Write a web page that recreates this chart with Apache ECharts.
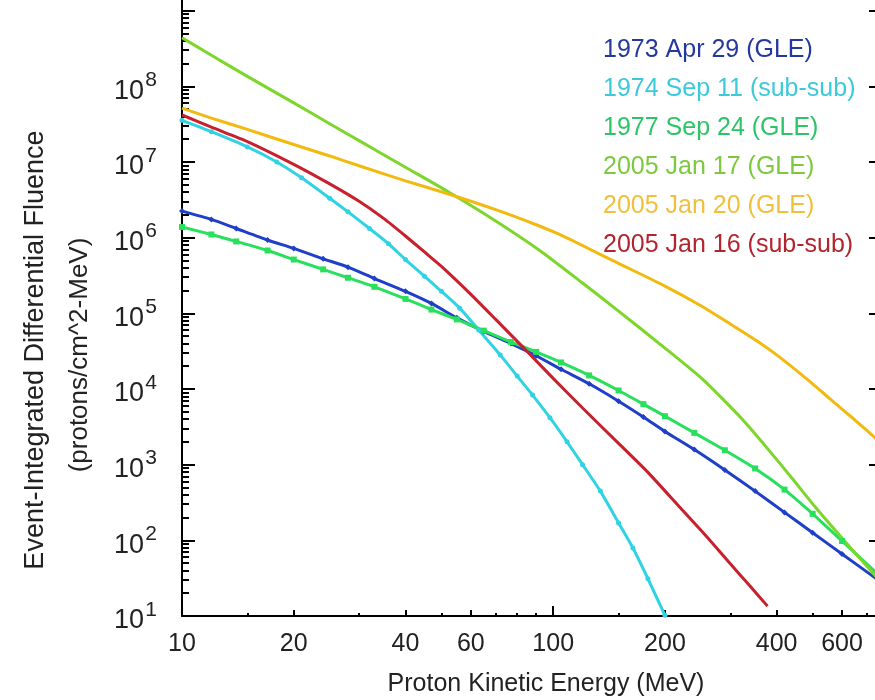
<!DOCTYPE html>
<html>
<head>
<meta charset="utf-8">
<script src="https://cdn.jsdelivr.net/npm/echarts@6.0.0/dist/echarts.min.js"></script>
<style>
  html, body { margin: 0; padding: 0; background: #fff; }
  #chart { width: 875px; height: 700px; }
</style>
</head>
<body>
<div id="chart"></div>
<script>
// proton energies (MeV) and event-integrated fluences
var energyA = [10, 12, 14, 17, 20, 24, 28, 33, 40, 47, 55, 65, 77, 90, 105, 125, 150, 175, 200, 240, 290, 350, 420, 500, 600, 750];
var fluence1973 = [2.24e6, 1.74e6, 1.32e6, 9.3e5, 7.2e5, 5.25e5, 4.07e5, 2.88e5, 1.95e5, 1.35e5, 8.7e4, 5.75e4, 3.98e4, 2.75e4, 1.82e4, 1.17e4, 6.9e3, 4.27e3, 2.75e3, 1.58e3, 850, 447, 234, 126, 66, 30];
var fluence1977 = [1.38e6, 1.10e6, 8.9e5, 6.76e5, 5.13e5, 3.8e5, 2.95e5, 2.24e5, 1.55e5, 1.12e5, 8.3e4, 5.9e4, 4.17e4, 3.09e4, 2.24e4, 1.51e4, 9.55e3, 6.3e3, 4.37e3, 2.63e3, 1.55e3, 890, 468, 224, 98, 35.5];

var energy1974 = [10, 12, 15, 18, 21, 25, 28, 32, 36, 40, 45, 50, 56, 63, 72, 80, 88, 98, 109, 120, 134, 150, 164, 180, 200];
var fluence1974 = [3.55e7, 2.51e7, 1.58e7, 1.0e7, 6.17e6, 3.31e6, 2.19e6, 1.32e6, 8.3e5, 5.13e5, 3.09e5, 1.95e5, 1.17e5, 6.03e4, 2.82e4, 1.48e4, 8.3e3, 4.17e3, 2.0e3, 1.0e3, 447, 170, 79, 31, 10.2];

var energyJan16 = [10, 12, 15, 20, 25, 30, 35, 40, 45, 50, 60, 70, 83, 100, 120, 150, 180, 220, 260, 300, 340, 378];
var fluenceJan16 = [4.17e7, 2.88e7, 1.86e7, 9.3e6, 5.13e6, 3.02e6, 1.78e6, 1.05e6, 6.46e5, 4.17e5, 1.78e5, 8.3e4, 3.55e4, 1.38e4, 5.6e3, 1.91e3, 790, 269, 110, 49, 24.5, 13.5];

var energyJan17 = [10, 12, 15, 20, 25, 30, 40, 52, 70, 92, 120, 150, 200, 250, 290, 330, 380, 440, 510, 600, 670, 750];
var fluenceJan17 = [4.37e8, 2.57e8, 1.35e8, 6.03e7, 3.2e7, 1.91e7, 8.5e6, 4.07e6, 1.66e6, 6.76e5, 2.51e5, 1.07e5, 3.47e4, 1.41e4, 6.9e3, 3.55e3, 1.58e3, 661, 269, 107, 58, 31];

var energyJan20 = [10, 12, 15, 20, 25, 30, 40, 52, 70, 90, 104, 124, 150, 200, 250, 300, 350, 400, 480, 560, 650, 750];
var fluenceJan20 = [5.13e7, 3.8e7, 2.69e7, 1.70e7, 1.20e7, 8.9e6, 5.62e6, 3.8e6, 2.34e6, 1.48e6, 1.10e6, 7.24e5, 4.57e5, 2.29e5, 1.26e5, 7.24e4, 4.47e4, 2.82e4, 1.38e4, 7.24e3, 3.89e3, 2.09e3];

var eventNames = ['1973 Apr 29 (GLE)', '1974 Sep 11 (sub-sub)', '1977 Sep 24 (GLE)', '2005 Jan 17 (GLE)', '2005 Jan 20 (GLE)', '2005 Jan 16 (sub-sub)'];

// tick labels and tick marks
var xLabels = [10, 20, 40, 60, 100, 200, 400, 600];
var xMajorTicks = [10, 100];
var xMidTicks = [20, 40, 60, 200, 400, 600];
var xMinorTicks = [15, 30, 50, 70, 80, 90, 150, 300, 500, 700];
var yDecades = [10, 1e2, 1e3, 1e4, 1e5, 1e6, 1e7, 1e8, 1e9];
var yLabels = [10, 1e2, 1e3, 1e4, 1e5, 1e6, 1e7, 1e8];
var yMinorTicks = [];
yDecades.forEach(function (d) {
  for (var k = 2; k <= 9; k++) yMinorTicks.push(d * k);
});

var font = '"Liberation Sans", Arial, Helvetica, sans-serif';
var lineColors = ['#1f3fc8', '#2fd3e3', '#27e05b', '#7dd62a', '#f2b90f', '#c8202c'];
var textColors = ['#24399e', '#3cc9da', '#2cc466', '#7cc93e', '#f0bf3c', '#b3252e'];

function pairs(e, f) {
  return e.map(function (v, i) { return [v, f[i]]; });
}

function tickAxis(values, len, extra) {
  var ax = {
    type: 'log',
    gridIndex: 0,
    axisLine: {show: false},
    axisLabel: {show: false},
    splitLine: {show: false},
    axisTick: {show: true, inside: true, length: len, customValues: values, lineStyle: {color: '#000', width: 2}}
  };
  for (var k in extra) ax[k] = extra[k];
  return ax;
}

var chart = echarts.init(document.getElementById('chart'));

var xRange = {min: 10, max: 750, position: 'bottom'};

// the minor-tick y axis also carries the exponents of the decade labels
var yMinorAxis = tickAxis(yMinorTicks, 7, {min: 10, max: 1.38e9, position: 'left'});
yMinorAxis.axisLabel = {
  show: true, customValues: yLabels, margin: 25,
  verticalAlign: 'bottom', lineHeight: 12,
  fontSize: 21, fontFamily: font, color: '#222',
  formatter: function (v) { return String(Math.round(Math.log10(v))); }
};

var option = {
  animation: false,
  backgroundColor: '#fff',
  grid: {left: 182, right: -3, top: 0, bottom: 84, outerBoundsMode: 'none'},
  xAxis: [
    {
      type: 'log', min: 10, max: 750, position: 'bottom',
      axisLine: {show: true, lineStyle: {color: '#000', width: 2}},
      axisTick: {show: true, inside: true, length: 10, customValues: xMajorTicks, lineStyle: {color: '#000', width: 2}},
      axisLabel: {show: true, customValues: xLabels, margin: 16, fontSize: 25, fontFamily: font, color: '#222',
        formatter: function (v) { return String(v); }},
      splitLine: {show: false}
    },
    tickAxis(xMidTicks, 6, xRange),
    tickAxis(xMinorTicks, 3, xRange)
  ],
  yAxis: [
    {
      type: 'log', min: 10, max: 1.38e9, position: 'left',
      axisLine: {show: true, lineStyle: {color: '#000', width: 2}},
      axisTick: {show: true, inside: true, length: 13, customValues: yDecades, lineStyle: {color: '#000', width: 2}},
      axisLabel: {
        show: true, customValues: yLabels, margin: 38,
        verticalAlign: 'top', lineHeight: 10,
        fontSize: 27, fontFamily: font, color: '#222',
        formatter: function () { return '10'; }
      },
      splitLine: {show: false}
    },
    yMinorAxis,
    tickAxis(yDecades, 9, {min: 10, max: 1.38e9, position: 'right'})
  ],
  legend: {
    orient: 'vertical', left: 593, top: 33,
    icon: 'none', itemWidth: 0, itemHeight: 24, itemGap: 14,
    selectedMode: false,
    textStyle: {fontSize: 25, fontFamily: font},
    data: eventNames.map(function (n, i) { return {name: n, textStyle: {color: textColors[i]}}; })
  },
  graphic: [
    {type: 'text', x: 546, y: 684,
      style: {text: 'Proton Kinetic Energy (MeV)', fontSize: 25, fontFamily: font, fill: '#222',
        align: 'center', verticalAlign: 'middle', textAlign: 'center', textVerticalAlign: 'middle'}},
    {type: 'text', x: 36, y: 350, rotation: Math.PI / 2,
      style: {text: 'Event-Integrated Differential Fluence', fontSize: 27, fontFamily: font, fill: '#222',
        align: 'center', verticalAlign: 'middle', textAlign: 'center', textVerticalAlign: 'middle'}},
    {type: 'text', x: 80, y: 355, rotation: Math.PI / 2,
      style: {text: '(protons/cm^2-MeV)', fontSize: 26, fontFamily: font, fill: '#222',
        align: 'center', verticalAlign: 'middle', textAlign: 'center', textVerticalAlign: 'middle'}}
  ],
  series: [
    {name: eventNames[0], type: 'line', data: pairs(energyA, fluence1973),
      symbol: 'diamond', symbolSize: 6, showSymbol: true, lineStyle: {width: 3}},
    {name: eventNames[1], type: 'line', data: pairs(energy1974, fluence1974),
      symbol: 'circle', symbolSize: 5, showSymbol: true, lineStyle: {width: 3}},
    {name: eventNames[2], type: 'line', data: pairs(energyA, fluence1977),
      symbol: 'rect', symbolSize: 6, showSymbol: true, lineStyle: {width: 3}},
    {name: eventNames[3], type: 'line', data: pairs(energyJan17, fluenceJan17),
      showSymbol: false, lineStyle: {width: 3}},
    {name: eventNames[4], type: 'line', data: pairs(energyJan20, fluenceJan20),
      showSymbol: false, lineStyle: {width: 3}},
    {name: eventNames[5], type: 'line', data: pairs(energyJan16, fluenceJan16),
      showSymbol: false, lineStyle: {width: 3}}
  ]
};
option.series.forEach(function (s, i) {
  s.color = lineColors[i];
  s.itemStyle = {color: lineColors[i]};
  s.lineStyle.color = lineColors[i];
  s.smooth = 0.2;
  s.xAxisIndex = 0;
  s.yAxisIndex = 0;
});

chart.setOption(option);
</script>
</body>
</html>
